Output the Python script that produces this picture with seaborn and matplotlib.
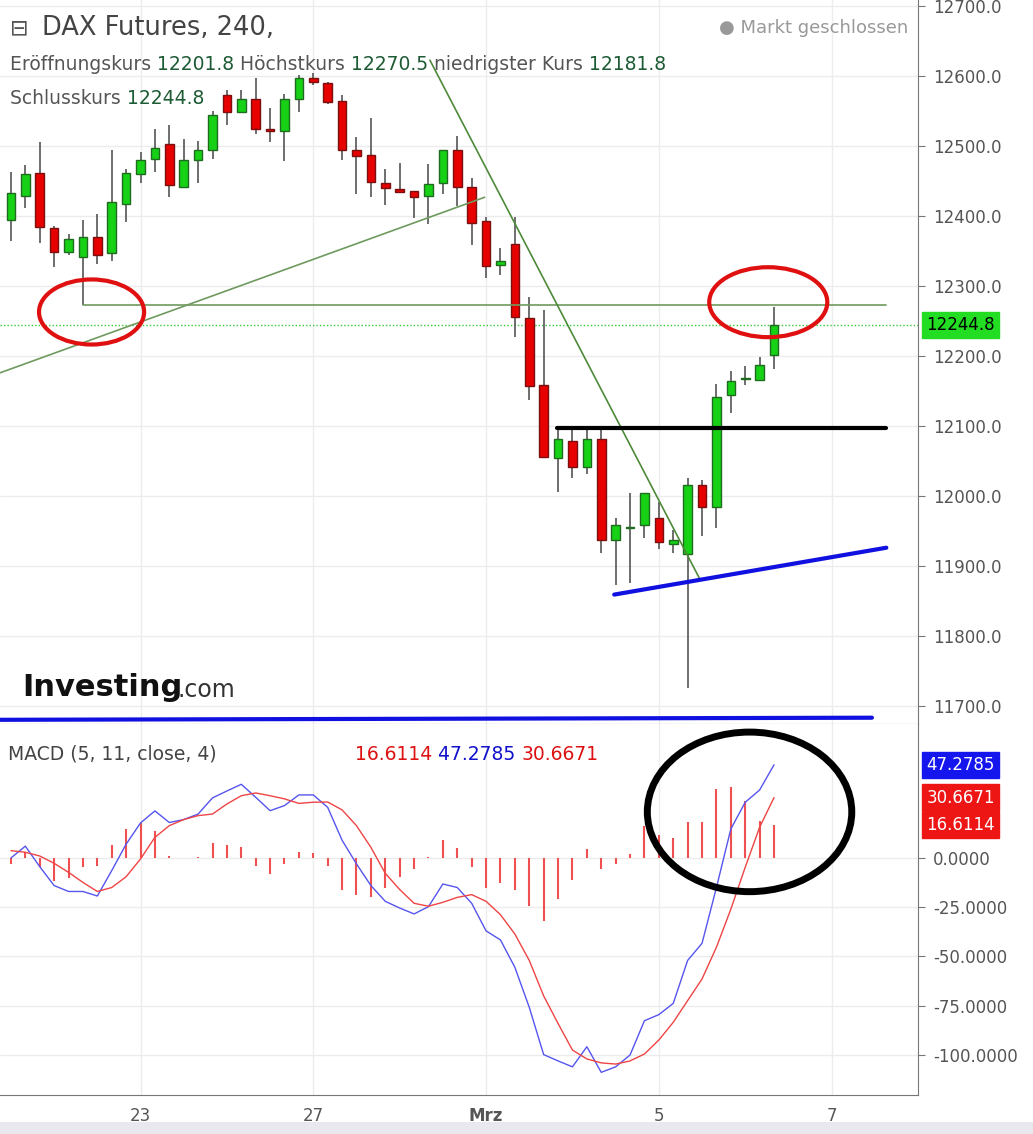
import matplotlib
matplotlib.use("Agg")
import matplotlib.pyplot as plt
from matplotlib.patches import Ellipse, Rectangle
import seaborn as sns
import numpy as np
import pandas as pd

# ---------------- data ----------------
opens = [12394,12429,12462,12383,12349,12342,12370,12347,12417,12460,12482,12503,12442,12480,12494,12573,12549,12567,12525,12522,12567,12598,12591,12565,12495,12487,12447,
         12439,12436,12429,12447,12495,12441,12393,12330,12360,12255,12158,12054,12078,12042,12082,11937,11954,11958,11968,11932,11917,12015,11984,12145,12167,12166,12201.8]
closes = [12433,12460,12385,12349,12367,12370,12345,12420,12462,12480,12498,12444,12480,12495,12545,12549,12567,12524,12522,12567,12597,12592,12563,12494,12486,12449,12440,
          12435,12428,12446,12495,12441,12390,12329,12336,12256,12157,12056,12082,12042,12082,11937,11958,11955,12004,11934,11937,12015,11984,12142,12165,12169,12187,12244.8]
highs = [12463,12473,12506,12386,12375,12395,12403,12495,12468,12491,12525,12530,12511,12508,12550,12581,12581,12598,12555,12575,12602,12604,12592,12573,12513,12541,12468,
         12476,12436,12474,12495,12514,12454,12399,12354,12399,12284,12266,12098,12098,12098,12098,11968,12004,12004,11991,11952,12025,12023,12160,12178,12186,12198,12270.5]
lows = [12364,12411,12361,12327,12345,12273,12332,12336,12391,12447,12463,12427,12442,12447,12481,12531,12549,12517,12506,12479,12549,12587,12561,12480,12432,12427,12416,
        12434,12397,12389,12431,12415,12359,12312,12316,12227,12137,12056,12006,12026,12031,11919,11872,11876,11940,11924,11919,11726,11943,11954,12119,12159,12164,12181.8]

macd = [0,6,-4.4,-14,-17,-17,-19.3,-6.4,7,17.8,23.9,18,19.5,22.3,30.5,34,37.4,30.8,24,26.6,32,32,25.7,9,-3,-14,-22,-25.4,-28.4,-24.7,-13.2,-15,
        -23,-37,-41.6,-55.5,-75.8,-99.8,-103,-106,-95.8,-108.8,-106,-100,-82.6,-79.5,-73.8,-52,-43.3,-15,14.7,28.3,34.5,47.2785]
signal = [3.7,2.9,1,-2.7,-7.3,-12.4,-17,-15,-9.5,-0.5,10.5,16.4,19.5,21.5,22.3,27.4,31.6,33,31.6,30,27.7,28.3,28.4,24.4,16.4,5.4,-7.8,-16,-23,-24.5,-22.5,-20,
          -18.6,-22,-28.8,-38.6,-52,-70,-84,-97.5,-102,-104,-104.6,-103,-99.5,-92.4,-83.4,-72.4,-61.4,-45.3,-26,-4.7,15.6,30.6671]
histo = [-3,2.9,-4.7,-11.8,-10.2,-4.7,-3.9,6.8,14.7,17.8,13.9,1.2,0,0.3,7.6,6.8,5.8,-3.9,-8.1,-3,3.2,2.4,-3.9,-16.2,-18.8,-20,-15.4,-9.8,-5.6,0.3,9.3,4.9,
         -4.7,-15.2,-12.9,-16.2,-24.2,-32.1,-20.8,-11,4.6,-5.6,-3,2,16.4,11.8,10.2,18.4,18.4,35,35.9,28.8,19,16.6114]

date_pos = [9, 21, 33, 45, 57]
date_labels = ["23", "27", "Mrz", "5", "7"]
price_ticks = [11700,11800,11900,12000,12100,12200,12300,12400,12500,12600,12700]
macd_ticks = [0,-25,-50,-75,-100]

# drawn annotations (index, value)
support_line = ([-0.76, 32.9], [12176, 12427])
resist_h = ([5, 60.8], [12273, 12273])
down_line = ([29.1, 47.8], [12623, 11883])
black_line = ([37.9, 60.8], [12097, 12097])
blue_line = ([41.9, 60.8], [11859, 11926])
blue_bottom = ([-0.76, 59.8], [11680, 11683])

df = pd.DataFrame({"i": np.arange(len(opens)), "o": opens, "c": closes, "h": highs, "l": lows,
                   "macd": macd, "signal": signal, "histo": histo})

# ---------------- figure ----------------
sns.set_style("white")
plt.rcParams['font.family'] = ['DejaVu Sans']
fig = plt.figure(figsize=(10.33, 11.34), dpi=100)
W, H = 1033, 1134
ax = fig.add_axes([0, (H-724)/H, 918/W, 724/H])
ax2 = fig.add_axes([0, (H-1095)/H, 918/W, (1095-724)/H], sharex=ax)

xmin, xmax = -0.76, 63
ax.set_xlim(xmin, xmax)
ax.set_ylim(11674, 12709)
ax2.set_ylim(-120.3, 68)

grid_c = "#ececec"
for a in (ax, ax2):
    for p in date_pos:
        a.axvline(p, color=grid_c, lw=1, zorder=0)
for t in price_ticks:
    ax.axhline(t, color=grid_c, lw=1, zorder=0)
for t in macd_ticks:
    ax2.axhline(t, color=grid_c, lw=1, zorder=0)

# candles
up = df["c"] >= df["o"]
ax.vlines(df["i"], df["l"], df["h"], color="#555555", lw=1.2, zorder=2)
bottoms = np.minimum(df["o"], df["c"])
heights = np.maximum(np.abs(df["c"] - df["o"]), 2)
ax.bar(df["i"][up], heights[up], bottom=bottoms[up], width=0.6, color="#16d116", edgecolor="#1f6b1f", lw=1, zorder=3)
ax.bar(df["i"][~up], heights[~up], bottom=bottoms[~up], width=0.6, color="#e60000", edgecolor="#7a1010", lw=1, zorder=3)

# drawings
g = "#6f9a5f"
ax.plot(*support_line, color=g, lw=1.2, zorder=4)
ax.plot(*resist_h, color=g, lw=1.2, zorder=4)
ax.plot(*down_line, color="#4e8a3a", lw=1.2, zorder=4)
ax.axhline(closes[-1], color="#33cc33", lw=1, ls=(0, (1, 1.5)), zorder=1)
ax.plot(*black_line, color="black", lw=3, zorder=4)
ax.plot(*blue_line, color="#1010e0", lw=3, zorder=4)
ax.plot(*blue_bottom, color="#1010e0", lw=3, zorder=4, clip_on=False)
ax.add_patch(Ellipse((5.6, 12263), 7.3, 93, fill=False, ec="#e01010", lw=3, zorder=5))
ax.add_patch(Ellipse((52.6, 12277), 8.2, 100, fill=False, ec="#e01010", lw=3, zorder=5))

# MACD
ax2.vlines(df["i"], 0, df["histo"], color="#f05050", lw=1.5, zorder=2)
sns.lineplot(data=df, x="i", y="macd", ax=ax2, color="#5555ee", lw=1, zorder=3)
sns.lineplot(data=df, x="i", y="signal", ax=ax2, color="#ee4444", lw=1, zorder=3)
ax2.add_patch(Ellipse((51.3, 23.4), 14.2, 81, fill=False, ec="black", lw=5, zorder=5))
ax2.set_xlabel(""); ax2.set_ylabel("")

# axes styling
for a in (ax, ax2):
    a.yaxis.tick_right()
    for s in ("top", "left"):
        a.spines[s].set_visible(False)
    a.spines["right"].set_color("#777777")
    a.spines["bottom"].set_color("#777777")
    a.tick_params(axis="y", length=5, colors="#555555", labelsize=12, pad=6, color="#777777")
ax.set_yticks(price_ticks)
ax.set_yticklabels([f"{t:.1f}" for t in price_ticks])
ax2.set_yticks(macd_ticks)
ax2.set_yticklabels([f"{t:.4f}" for t in macd_ticks])
ax.tick_params(axis="x", bottom=False, labelbottom=False)
ax2.set_xticks(date_pos)
ax2.set_xticklabels(date_labels)
ax2.tick_params(axis="x", length=5, colors="#555555", labelsize=12, color="#777777")
for lbl in ax2.get_xticklabels():
    if lbl.get_text() == "Mrz":
        lbl.set_fontweight("bold")

# price boxes
def pbox(a, y, txt, fc, tc):
    a.annotate(txt, xy=(1.0, y), xycoords=("axes fraction", "data"), xytext=(6, 0),
               textcoords="offset points", va="center", ha="left", fontsize=12, color=tc,
               bbox=dict(boxstyle="square,pad=0.25", fc=fc, ec=fc), annotation_clip=False)
pbox(ax, closes[-1], f"{closes[-1]:.1f}", "#22dd22", "black")
pbox(ax2, macd[-1], f"{macd[-1]:.4f}", "#1515ee", "white")
pbox(ax2, signal[-1], f"{signal[-1]:.4f}", "#ee1515", "white")
pbox(ax2, histo[-1], f"{histo[-1]:.4f}", "#ee1515", "white")

# header texts
gray = "#555555"; dg = "#1d5b35"
fig.canvas.draw()
rend = fig.canvas.get_renderer()

def chain(x, ypx, parts, fs):
    for txt, col in parts:
        t = fig.text(x/W, 1-ypx/H, txt, fontsize=fs, color=col, va="center")
        x += t.get_window_extent(renderer=rend).width

fig.text(10/W, 1-28/H, "⊟", fontsize=16, color=gray, va="center")
fig.text(42/W, 1-28/H, "DAX Futures, 240,", fontsize=18.5, color="#444444", va="center")
fig.text(908/W, 1-28/H, "● Markt geschlossen", fontsize=13, color="#999999", va="center", ha="right")
chain(10, 65, [("Eröffnungskurs ", gray), ("12201.8 ", dg), ("Höchstkurs ", gray), ("12270.5 ", dg),
               ("niedrigster Kurs ", gray), ("12181.8", dg)], 13.5)
chain(10, 99, [("Schlusskurs ", gray), ("12244.8", dg)], 13.5)
fig.text(22/W, 1-688/H, "Investing", fontsize=22, fontweight="bold", color="#111111", va="center")
fig.text(178/W, 1-690/H, ".com", fontsize=17, color="#333333", va="center")
fig.text(8/W, 1-754/H, "MACD (5, 11, close, 4)", fontsize=13.5, color="#444444", va="center")
chain(355, 754, [("16.6114 ", "#dd1111"), ("47.2785 ", "#1111cc"), ("30.6671", "#dd1111")], 13.5)

fig.patches.append(Rectangle((0, 0), 1, 12/H, transform=fig.transFigure, fc="#e8e8ee", ec="none"))
fig.savefig("out.png", dpi=100)
